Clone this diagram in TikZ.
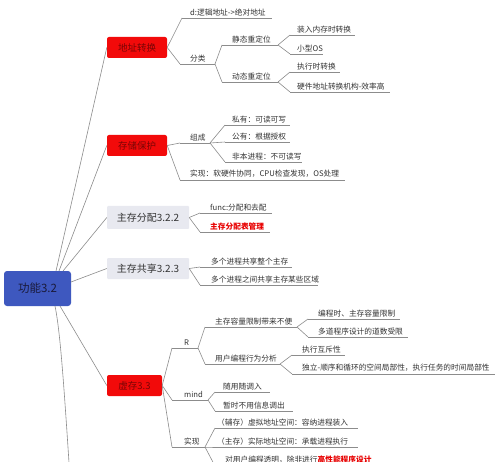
\documentclass[tikz,border=0pt]{standalone}
\usepackage{fontspec}
\setmainfont{Noto Sans CJK SC}
\usetikzlibrary{calc}
\definecolor{ln}{HTML}{8C8C8C}
\definecolor{txt}{HTML}{333333}
\definecolor{boxred}{HTML}{F20A0A}
\definecolor{redtxt}{HTML}{7A0505}
\definecolor{boxgrey}{HTML}{E8E9F0}
\definecolor{rootblue}{HTML}{3E58BF}
\definecolor{roottxt}{HTML}{1A1A3A}
\definecolor{hlred}{HTML}{E80000}
\tikzset{
  ul/.style={draw=ln, line width=0.6pt},
  br/.style={ul, to path={.. controls (\tikztostart) and ($(\tikztostart)!0.3!(\tikztotarget)$ |- \tikztotarget) .. (\tikztotarget)}},
  brr/.style={ul, to path={.. controls (\tikztostart) and ($(\tikztostart)!0.22!(\tikztotarget)$ |- \tikztotarget) .. (\tikztotarget)}},
  leaf/.style={font=\fontsize{7.7}{9}\selectfont, text=txt, inner xsep=0pt, inner ysep=2pt, anchor=south west},
  redbox/.style={fill=boxred, text=redtxt, rounded corners=2pt, inner sep=0pt, font=\fontsize{9.5}{11}\selectfont},
  greybox/.style={fill=boxgrey, text=txt, rounded corners=1pt, inner sep=0pt, font=\fontsize{10}{12}\selectfont},
  rootbox/.style={fill=rootblue, text=roottxt, rounded corners=3pt, inner sep=0pt, font=\fontsize{11.5}{13}\selectfont}
}
\newcommand\lf[6]{%
  \coordinate (#1s) at (#2,#3);
  \coordinate (#1e) at (#4,#3);
  \node[leaf] (#1) at (#2+#5,#3) {#6};
  \draw[ul] (#1s) -- (#1e);
}
\begin{document}
\begin{tikzpicture}[x=1pt,y=-1pt]
\clip (0,0) rectangle (500,462);
\fill[white] (0,0) rectangle (500,462);

% root
\node[rootbox, minimum width=67pt, minimum height=35pt] (root) at (37.5,288.5) {功能3.2};
\coordinate (rt1) at (56,271);
\coordinate (rt2) at (59,271);
\coordinate (rt3) at (63,271);
\coordinate (rr) at (71,282);
\coordinate (rb1) at (60,306);
\coordinate (rb2) at (55,306);
\coordinate (more) at (78,600);

% level 1
\node[redbox, minimum width=60pt, minimum height=21pt] (dz) at (137,47.5) {地址转换};
\node[redbox, minimum width=60pt, minimum height=21pt] (cb) at (137,145.5) {存储保护};
\node[greybox, minimum width=82pt, minimum height=23pt] (fp) at (148,217.5) {主存分配3.2.2};
\node[greybox, minimum width=82pt, minimum height=21pt] (gx) at (148,268.5) {主存共享3.2.3};
\node[redbox, minimum width=55pt, minimum height=21pt] (xc) at (134.5,385.5) {虚存3.3};

\draw[brr] (rt1) to (dz.west);
\draw[brr] (rt2) to (cb.west);
\draw[brr] (rt3) to (fp.west);
\draw[brr] (rr) to (gx.west);
\draw[brr] (rb1) to (xc.west);
\draw[ul] (rb2) .. controls (62,340) and (66,420) .. (more);

% 地址转换
\lf{d1}{182}{18}{272}{8}{d:逻辑地址->绝对地址}
\lf{fl}{180}{64}{215}{10}{分类}
\lf{jt}{222}{45}{278}{10}{静态重定位}
\lf{jt1}{290}{35}{355}{7}{装入内存时转换}
\lf{jt2}{290}{54}{323}{7}{小型OS}
\lf{dt}{222}{82}{278}{10}{动态重定位}
\lf{dt1}{290}{72}{340}{7}{执行时转换}
\lf{dt2}{290}{92}{390}{7}{硬件地址转换机构-效率高}
\draw[br] (dz.east) to (d1s);
\draw[br] (dz.east) to (fls);
\draw[br] (fle) to (jts);
\draw[br] (fle) to (dts);
\draw[br] (jte) to (jt1s);
\draw[br] (jte) to (jt2s);
\draw[br] (dte) to (dt1s);
\draw[br] (dte) to (dt2s);

% 存储保护
\lf{zc}{180}{143}{210}{10}{组成}
\lf{zc1}{225}{125}{290}{7}{私有：可读可写}
\lf{zc2}{225}{142}{290}{7}{公有：根据授权}
\lf{zc3}{225}{162}{302}{7}{非本进程：不可读写}
\lf{sx1}{180}{180}{345}{10}{实现：软硬件协同，CPU检查发现，OS处理}
\draw[br] (cb.east) to (zcs);
\draw[br] (cb.east) to (sx1s);
\draw[br] (zce) to (zc1s);
\draw[br] (zce) to (zc2s);
\draw[br] (zce) to (zc3s);

% 主存分配
\lf{fp1}{200}{213}{272}{10}{func:分配和去配}
\lf{fp2}{200}{232}{270}{10}{\textcolor{hlred}{\bfseries 主存分配表管理}}
\draw[br] (fp.east) to (fp1s);
\draw[br] (fp.east) to (fp2s);

% 主存共享
\lf{gx1}{200}{267}{292}{11}{多个进程共享整个主存}
\lf{gx2}{200}{285}{318}{11}{多个进程之间共享主存某些区域}
\draw[br] (gx.east) to (gx1s);
\draw[br] (gx.east) to (gx2s);

% 虚存
\lf{r}{172}{348}{198}{12}{R}
\lf{r1}{205}{327}{297}{10}{主存容量限制带来不便}
\lf{r11}{308}{319}{400}{10}{编程时、主存容量限制}
\lf{r12}{308}{337}{408}{10}{多道程序设计的道数受限}
\lf{r2}{205}{364}{280}{10}{用户编程行为分析}
\lf{r21}{292}{355}{345}{10}{执行互斥性}
\lf{r22}{292}{374}{495}{10}{独立-顺序和循环的空间局部性，执行任务的时间局部性}
\lf{md}{172}{400}{208}{12}{mind}
\lf{md1}{215}{392}{270}{8}{随用随调入}
\lf{md2}{215}{411}{293}{8}{暂时不用信息调出}
\lf{sx}{172}{447}{205}{12}{实现}
\lf{sx21}{215}{428}{358}{2}{（辅存）虚拟地址空间：容纳进程装入}
\lf{sx22}{215}{447}{358}{2}{（主存）实际地址空间：承载进程执行}
\lf{sx23}{215}{466}{375}{10}{对用户编程透明，除非进行\textcolor{hlred}{\bfseries 高性能程序设计}}
\draw[br] (xc.east) to (rs);
\draw[br] (xc.east) to (mds);
\draw[br] (xc.east) to (sxs);
\draw[br] (re) to (r1s);
\draw[br] (re) to (r2s);
\draw[br] (r1e) to (r11s);
\draw[br] (r1e) to (r12s);
\draw[br] (r2e) to (r21s);
\draw[br] (r2e) to (r22s);
\draw[br] (mde) to (md1s);
\draw[br] (mde) to (md2s);
\draw[br] (sxe) to (sx21s);
\draw[br] (sxe) to (sx22s);
\draw[br] (sxe) to (sx23s);
\end{tikzpicture}
\end{document}
